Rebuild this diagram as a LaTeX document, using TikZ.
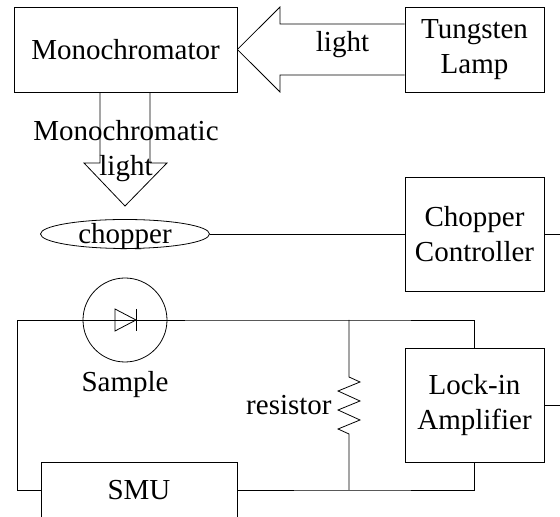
\documentclass[tikz,border=0pt]{standalone}
\usepackage{fontspec}
\setmainfont{Liberation Serif}
\usetikzlibrary{shapes.geometric}
\tikzset{
    every node/.style={font=\fontsize{16.5}{20}\selectfont, align=center, inner sep=0pt},
    box/.style={draw, minimum width=2.78cm, minimum height=#1},
    box/.default=2.28cm
}
\begin{document}
\begin{tikzpicture}[line width=0.45pt]
            \useasboundingbox (0, 0) rectangle (11.2, 10.34);

            \node[draw, minimum width=4.46cm, minimum height=1.7cm] (Mono) at (2.51, 9.35) {Monochromator};
            \node[box=1.7cm] (Lamp) at (9.49, 9.35) {\raisebox{-0.05cm}{Tungsten}\\\raisebox{-0.05cm}{Lamp}};
            \node[box] (Controller) at (9.49, 5.66) {Chopper\\Controller};
            \node[box] (Lockin) at (9.49, 2.24) {Lock-in\\Amplifier};
            \node[draw, minimum width=3.92cm, minimum height=1.12cm] (SMU) at (2.78, 0.54) {SMU};
            \node[draw, ellipse, minimum width=3.38cm, minimum height=0.58cm, label={[yshift=-0.05cm]center:chopper}] (Chopper) at (2.5, 5.66) {};
            \node[draw, circle, minimum size=1.68cm] (Sample) at (2.5, 3.94) {};

            \node (LightLabel) at (6.85, 9.44) {light};
            \node (MonoLabel) at (2.52, 7.32) {Monochromatic\\light};
            \node (SampleLabel) at (2.5, 2.64) {Sample};
            \node[anchor=east] (ResLabel) at (6.64, 2.24) {resistor};

            \coordinate (WireSW) at (0.34, 0.54);
            \coordinate (WireNW) at (0.34, 3.94);
            \coordinate (WireN) at (6.98, 3.94);
            \coordinate (WireNE) at (9.49, 3.94);
            \coordinate (WireS) at (6.98, 0.54);
            \coordinate (WireSE) at (9.49, 0.54);
            \coordinate (ChopOut) at (11.2, 5.66);
            \coordinate (LockOut) at (11.2, 2.24);

            \draw (Mono.east) -- (5.6, 10.2) -- (5.6, 9.86) -- (Lamp.west |- 0, 9.86);
            \draw (Mono.east) -- (5.6, 8.5) -- (5.6, 8.84) -- (Lamp.west |- 0, 8.84);

            \draw (Mono.south -| 2, 0) -- (2, 7.08) -- (1.68, 7.08) -- (2.5, 6.22) -- (3.34, 7.08) -- (3, 7.08) -- (Mono.south -| 3, 0);

            \draw (Chopper) -- (Controller);
            \draw (Controller.east) -- (ChopOut);
            \draw (Lockin.east) -- (LockOut);

            \draw (SMU.west) -- (WireSW) -- (WireNW) -- (WireN) -- (WireNE) -- (Lockin.north);
            \draw (SMU.east) -- (WireS) -- (WireSE) -- (Lockin.south);

            \draw (WireN) -- (6.98, 2.8) -- (7.2, 2.7) -- (6.76, 2.52) -- (7.2, 2.32) -- (6.76, 2.14) -- (7.2, 1.94) -- (6.76, 1.76) -- (6.98, 1.66) -- (WireS);

            \draw (2.3, 4.16) -- (2.72, 3.94) -- (2.3, 3.72) -- cycle;
            \draw (2.72, 4.16) -- (2.72, 3.72);
        \end{tikzpicture}
\end{document}
